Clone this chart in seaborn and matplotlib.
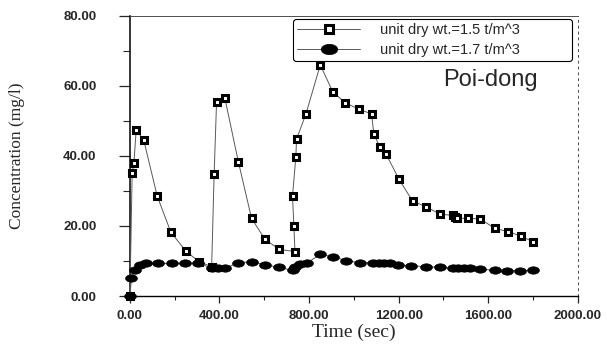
import matplotlib
matplotlib.use("Agg")
from matplotlib import pyplot as plt
from matplotlib.path import Path
from matplotlib.transforms import Affine2D
from matplotlib.ticker import MultipleLocator, FormatStrFormatter
import seaborn as sns
import pandas as pd

# Series
time_15 = [0, 10, 18, 28, 62, 122, 183, 249, 308, 365, 376, 387, 424, 484, 543,
           603, 667, 737, 732, 726, 741, 744, 786, 850, 905, 960, 1024, 1079, 1089,
           1116, 1143, 1201, 1262, 1321, 1384, 1442, 1452, 1462, 1510, 1565, 1629,
           1689, 1745, 1800]
conc_15 = [0, 35, 38, 47.5, 44.5, 28.5, 18.2, 12.9, 9.8, 8.4, 34.8, 55.5, 56.5, 38.4,
           22.2, 16.2, 13.3, 12.7, 20.1, 28.6, 39.8, 44.8, 52, 66, 58.4, 55.2, 53.3,
           52, 46.3, 42.5, 40.6, 33.4, 27.1, 25.5, 23.4, 23, 22.5, 22.2, 22.2, 22,
           19.3, 18.4, 17.1, 15.5]

time_17 = [0, 7, 22, 45, 74, 126, 186, 246, 305, 365, 395, 424, 484, 543, 603, 667,
           726, 737, 760, 792, 850, 905, 967, 1027, 1085, 1110, 1135, 1160, 1198, 1257,
           1321, 1384, 1442, 1465, 1490, 1518, 1565, 1629, 1684, 1741, 1800]
conc_17 = [0, 5.2, 7.4, 8.9, 9.3, 9.3, 9.3, 9.3, 9.5, 7.9, 7.9, 7.9, 9.5, 9.8, 8.9,
           8.2, 7.3, 8.2, 9.0, 9.5, 11.9, 11.2, 10.1, 9.5, 9.5, 9.5, 9.5, 9.5, 8.9,
           8.6, 8.4, 8.2, 7.9, 7.9, 7.9, 7.9, 7.6, 7.4, 7.2, 7.2, 7.4]

labels = ["unit dry wt.=1.5 t/m^3", "unit dry wt.=1.7 t/m^3"]

df15 = pd.DataFrame({"time": time_15, "conc": conc_15})
df17 = pd.DataFrame({"time": time_17, "conc": conc_17})

if __name__ == "__main__":
    sns.set_style("white")
    plt.rcParams["font.family"] = ["Liberation Sans", "DejaVu Sans"]

    fig = plt.figure(figsize=(6.07, 3.45), dpi=100)
    ax = fig.add_axes([0.214, 0.142, 0.738, 0.812])

    ellipse = Path.unit_circle().transformed(Affine2D().scale(1.6, 1.0))

    sns.lineplot(data=df15, x="time", y="conc", sort=False, ax=ax, label=labels[0],
                 color="0.35", linewidth=0.7, marker="s", markersize=4.2,
                 markerfacecolor="white", markeredgecolor="black",
                 markeredgewidth=2.2, clip_on=False, zorder=3)
    sns.lineplot(data=df17, x="time", y="conc", sort=False, ax=ax, label=labels[1],
                 color="0.35", linewidth=0.7, marker=ellipse, markersize=8.5,
                 markerfacecolor="black", markeredgecolor="black",
                 markeredgewidth=0.5, clip_on=False, zorder=3)

    ax.set_xlim(0, 2000)
    ax.set_ylim(0, 80)
    ax.xaxis.set_major_locator(MultipleLocator(400))
    ax.xaxis.set_minor_locator(MultipleLocator(200))
    ax.yaxis.set_major_locator(MultipleLocator(20))
    ax.yaxis.set_minor_locator(MultipleLocator(10))
    ax.xaxis.set_major_formatter(FormatStrFormatter("%.2f"))
    ax.yaxis.set_major_formatter(FormatStrFormatter("%.2f"))
    ax.tick_params(axis="y", which="major", direction="out", length=8, width=0.9,
                   pad=16, left=True, labelsize=9.5)
    ax.tick_params(axis="y", which="minor", direction="out", length=5, width=0.8, left=True)
    ax.tick_params(axis="x", which="major", direction="out", length=5, width=0.9,
                   pad=5, bottom=True, labelsize=9.5)
    ax.tick_params(axis="x", which="minor", direction="out", length=3, width=0.8, bottom=True)
    for lab in ax.get_xticklabels() + ax.get_yticklabels():
        lab.set_fontweight("bold")

    ax.spines["left"].set_color("black")
    ax.spines["left"].set_linewidth(1.1)
    ax.spines["bottom"].set_color("black")
    ax.spines["bottom"].set_linewidth(1.0)
    ax.spines["top"].set_color("0.3")
    ax.spines["top"].set_linewidth(0.7)
    ax.spines["right"].set_color("0.3")
    ax.spines["right"].set_linewidth(0.7)
    ax.spines["right"].set_linestyle((0, (2, 4)))

    ax.set_xlabel("Time (sec)", family="Liberation Serif", fontsize=14)
    ax.set_ylabel("Concentration (mg/l)", family="Liberation Serif", fontsize=12.5)
    ax.xaxis.set_label_coords(0.5, -0.1)
    ax.yaxis.set_label_coords(-0.235, 0.5)

    ax.text(0.70, 0.77, "Poi-dong", transform=ax.transAxes, fontsize=17,
            ha="left", va="center")

    leg = ax.legend(loc="upper left", bbox_to_anchor=(0.364, 0.0, 0.623, 0.99),
                    mode="expand", borderaxespad=0,
                    fontsize=10.5, handlelength=4.3, markerscale=1.4, fancybox=True,
                    framealpha=1, edgecolor="black", labelspacing=0.4,
                    borderpad=0.3, handletextpad=1.4)
    leg.get_frame().set_linewidth(0.8)

    fig.savefig("out.png", dpi=100)
